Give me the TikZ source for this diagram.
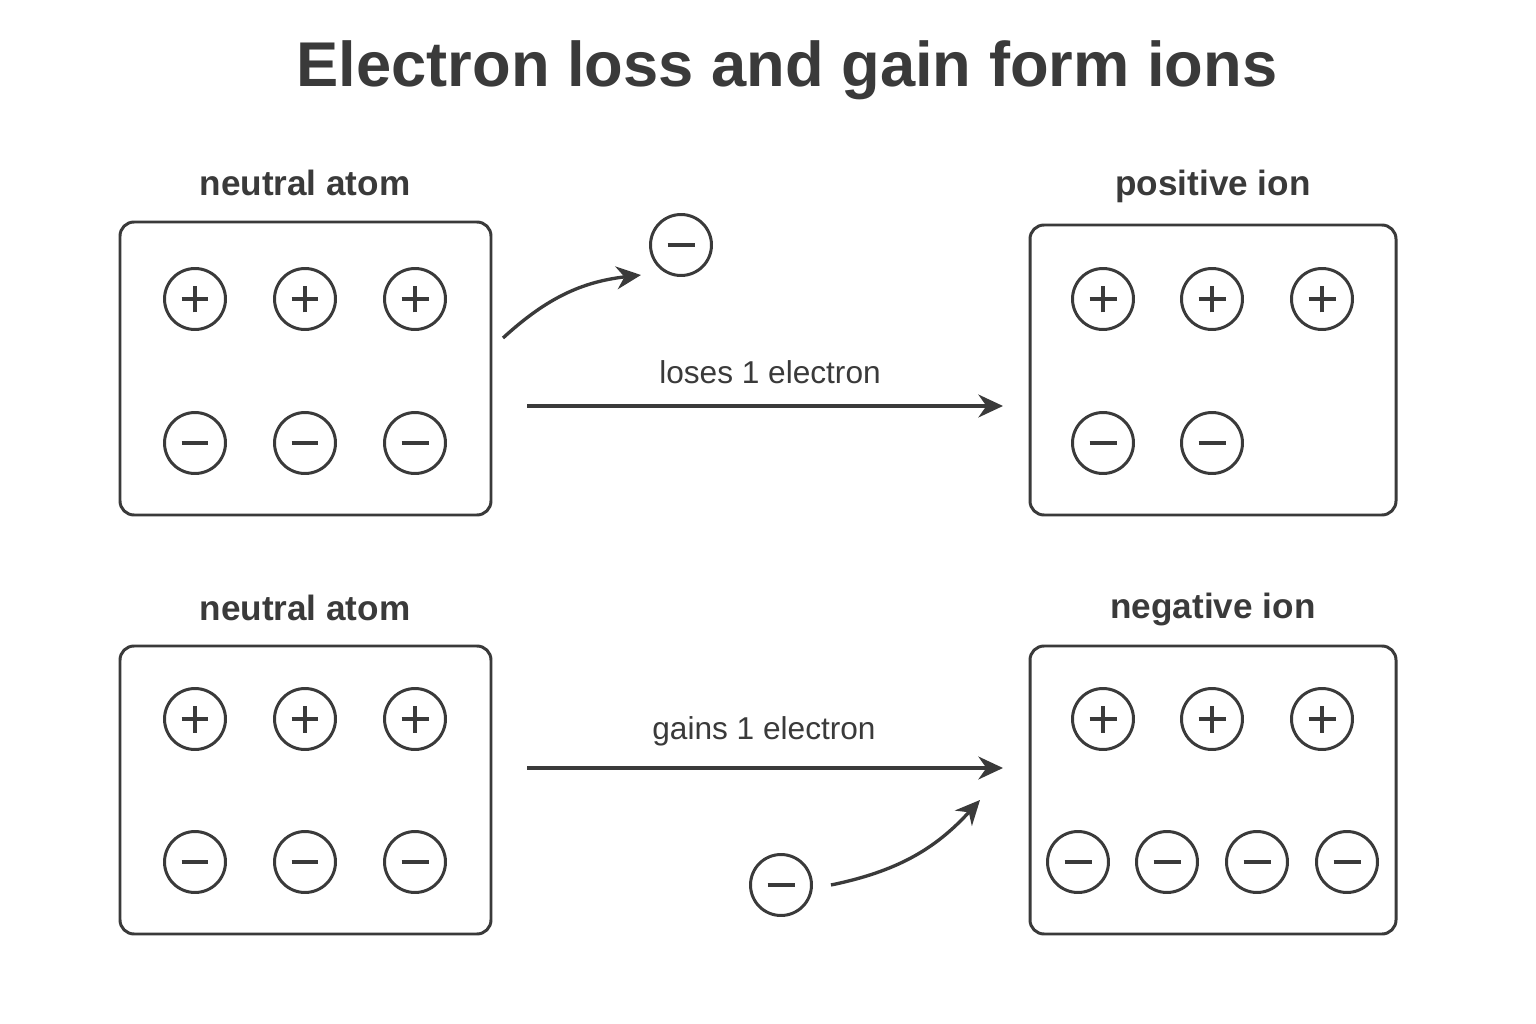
\documentclass[tikz,border=0pt]{standalone}
\usepackage{fontspec}
\setmainfont{Liberation Sans}
\usetikzlibrary{positioning,arrows.meta}
\definecolor{InkGray}{HTML}{3A3A3A}

\begin{document}
\begin{tikzpicture}[
      x=0.02cm, y=-0.02cm,
      every node/.style={align=center, text=InkGray},
      box/.style={draw=InkGray, line width=1.7pt, rounded corners=8pt},
      charge/.style={draw=InkGray, line width=1.7pt, circle, minimum size=1.22cm, inner sep=0pt},
      plus/.style={charge, path picture={
        \draw[InkGray, line width=1.9pt] ([xshift=-0.27cm]path picture bounding box.center) -- ++(0.54cm,0);
        \draw[InkGray, line width=1.9pt] ([yshift=-0.27cm]path picture bounding box.center) -- ++(0,0.54cm);}},
      minus/.style={charge, path picture={
        \draw[InkGray, line width=1.9pt] ([xshift=-0.27cm]path picture bounding box.center) -- ++(0.54cm,0);}},
      heading/.style={font=\fontsize{20}{24}\selectfont\bfseries},
      note/.style={font=\fontsize{18}{22}\selectfont},
      arrow/.style={draw=InkGray, line width=1.9pt, -{Stealth[length=14pt,width=13pt]}}
    ]
      \useasboundingbox (0,0) rectangle (1536,1024);
      \fill[white] (0,0) rectangle (1536,1024);

      \node[font=\fontsize{36}{42}\selectfont\bfseries] (title) at (787,70) {Electron loss and gain form ions};

      % Boxes
      \draw[box] (120,222) rectangle (491,515);
      \draw[box] (1030,225) rectangle (1396,515);
      \draw[box] (120,646) rectangle (491,934);
      \draw[box] (1030,646) rectangle (1396,934);

      \node[heading] (headA) at (305,183) {neutral atom};
      \node[heading] (headB) at (1213,186) {positive ion};
      \node[heading] (headC) at (305,608) {neutral atom};
      \node[heading] (headD) at (1213,609) {negative ion};

      % Charges
      \foreach \x in {195,305,415} {
        \node[plus] at (\x,299) {};
        \node[minus] at (\x,443) {};
        \node[plus] at (\x,719) {};
        \node[minus] at (\x,862) {};
      }
      \foreach \x in {1103,1212,1322} {
        \node[plus] at (\x,299) {};
        \node[plus] at (\x,719) {};
      }
      \foreach \x in {1103,1212} \node[minus] at (\x,443) {};
      \foreach \x in {1078,1167,1257,1347} \node[minus] at (\x,862) {};

      \node[minus] (lost) at (681,245) {};
      \node[minus] (gained) at (781,885) {};

      % Arrows
      \coordinate (lossStart) at (503,338);
      \coordinate (gainEnd) at (980,800);
      \coordinate (topFrom) at (527,406);
      \coordinate (topTo) at (1003,406);
      \coordinate (botFrom) at (527,768);
      \coordinate (botTo) at (1003,768);
      \draw[arrow] (lossStart) to[bend left=18] ([shift={(-40,30)}]lost.center);
      \draw[arrow] (gained.east) ++(18,0) to[bend right=18] (gainEnd);
      \draw[arrow] (topFrom) -- (topTo);
      \draw[arrow] (botFrom) -- (botTo);

      \node[note] (lossLabel) at (770,372) {loses 1 electron};
      \node[note] (gainLabel) at (764,731) {gains 1 electron};
    \end{tikzpicture}
\end{document}
